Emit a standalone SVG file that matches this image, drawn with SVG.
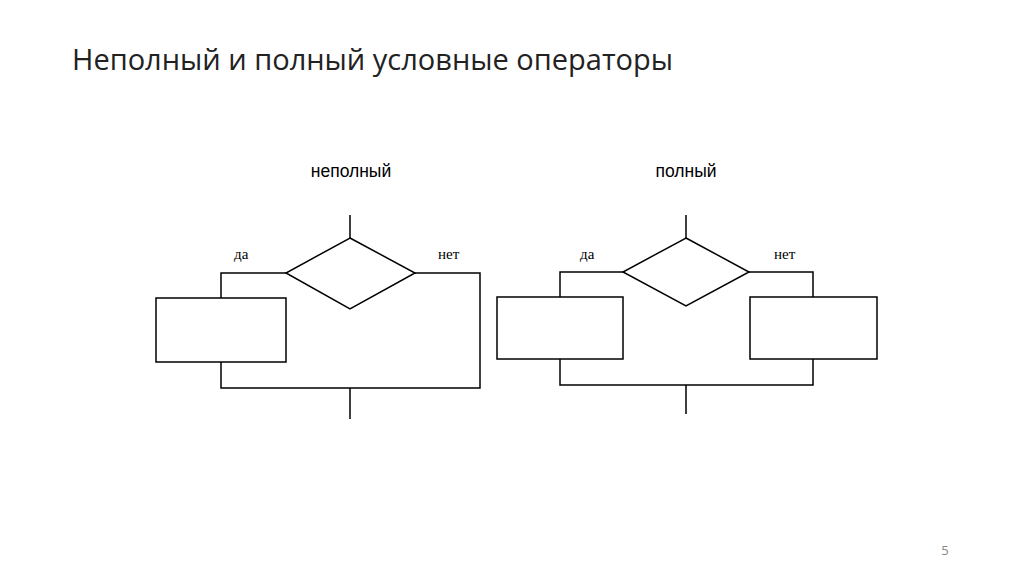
<svg xmlns="http://www.w3.org/2000/svg" width="1024" height="574" viewBox="0 0 1024 574">
<style>
.l{fill:none;stroke:#000;stroke-width:1.5}
.s{font-family:"Liberation Sans",Arial,sans-serif;font-size:17.5px;fill:#000}
.t{font-family:"Liberation Serif",serif;font-size:15px;fill:#000}
</style>
<rect width="1024" height="574" fill="#fff"/>
<text x="72" y="70" font-family="'Open Sans','Noto Sans',sans-serif" font-size="29" fill="#222" textLength="601">Неполный и полный условные операторы</text>
<text class="s" x="351" y="177" text-anchor="middle">неполный</text>
<text class="s" x="686" y="177" text-anchor="middle">полный</text>
<text class="t" x="234" y="259">да</text>
<text class="t" x="438" y="259">нет</text>
<text class="t" x="580" y="259">да</text>
<text class="t" x="774" y="259">нет</text>
<g id="connectors">
<path class="l" d="M350 215V238M286 273H221V298M415 273H480V388H221V362M350 388V419"/>
<path class="l" d="M686 215V238M623 272H560V297M749 272H813V297M560 359V385H813V359M686 385V414"/>
</g>
<g id="d1"><polygon class="l" points="350,238 415,273 350,309 286,273"/></g>
<g id="b1"><rect class="l" x="156" y="298" width="130" height="64"/></g>
<g id="d2"><polygon class="l" points="686,238 749,272 686,306 623,272"/></g>
<g id="b2"><rect class="l" x="497" y="297" width="126" height="62"/></g>
<g id="b3"><rect class="l" x="750" y="297" width="127" height="62"/></g>
<text x="945" y="555" font-family="'Open Sans',sans-serif" font-size="13" fill="#888" text-anchor="middle">5</text>
</svg>
